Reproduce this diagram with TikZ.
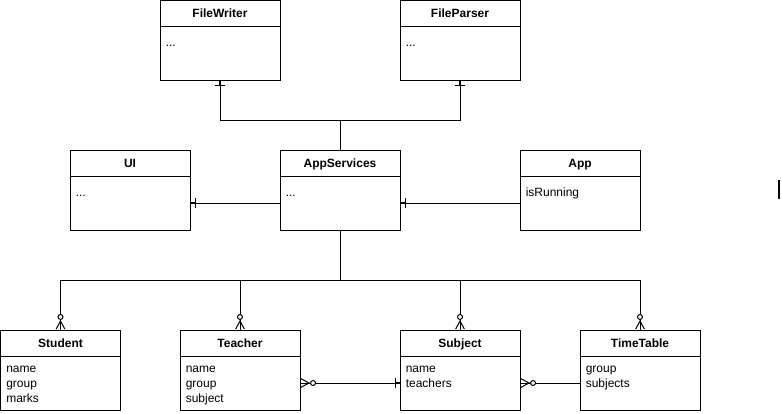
\documentclass[tikz,border=0pt]{standalone}
\usepackage{fontspec}
\setmainfont{Liberation Sans}
\usetikzlibrary{arrows.meta,positioning}
\tikzset{
  entitybox/.style={draw,line width=0.75pt,minimum width=90pt,
                    minimum height=60pt,inner sep=0pt},
  entitytitle/.style={draw,line width=0.75pt,minimum width=90pt,
                      minimum height=19.5pt,inner sep=0pt,anchor=north,
                      font=\bfseries\fontsize{9}{11}\selectfont,
                      text height=6.5pt,text depth=0pt},
  entityattr/.style={anchor=north west,align=left,inner xsep=4.5pt,
                     inner ysep=6.9pt,font=\fontsize{9}{11.1}\selectfont,
                     execute at begin node=\strut},
  rel/.style={line width=0.75pt,preaction={draw,-}},
  toone/.style={rel,arrows={-Bar[width=7.5pt] Rectangle[length=3pt,width=0pt]}},
  tomany/.style={rel,arrows={-Circle[fill=white,length=4.5pt]
                 Straight Barb[reversed,length=6pt,width=6.5pt]}},
  manytoone/.style={rel,arrows={{Straight Barb[reversed,length=6pt,width=6.5pt]
                    Circle[fill=white,length=4.5pt]}-{Bar[width=7.5pt]
                    Rectangle[length=3pt,width=0pt]}}},
  manytonone/.style={rel,arrows={{Straight Barb[reversed,length=6pt,width=6.5pt]
                     Circle[fill=white,length=4.5pt]}-}},
}

\begin{document}
\begin{tikzpicture}[x=0.75pt,y=-0.75pt]
  \useasboundingbox (0,0) rectangle (782,414);
  % file layer
  \node[entitybox] (fw) at (220,40.5) {};
  \node[entitytitle] (fwt) at (fw.north) {FileWriter};
  \node[entityattr] at (fwt.south west) {...};
  \node[entitybox] (fp) at (460,40.5) {};
  \node[entitytitle] (fpt) at (fp.north) {FileParser};
  \node[entityattr] at (fpt.south west) {...};
  % service layer
  \node[entitybox] (ui) at (130,190) {};
  \node[entitytitle] (uit) at (ui.north) {UI};
  \node[entityattr] at (uit.south west) {...};
  \node[entitybox] (as) at (340,190) {};
  \node[entitytitle] (ast) at (as.north) {AppServices};
  \node[entityattr] at (ast.south west) {...};
  \node[entitybox] (app) at (580,190) {};
  \node[entitytitle] (appt) at (app.north) {App};
  \node[entityattr] at (appt.south west) {isRunning};
  % data layer
  \node[entitybox] (st) at (60.5,370) {};
  \node[entitytitle] (stt) at (st.north) {Student};
  \node[entityattr] at (stt.south west) {name\\group\\marks};
  \node[entitybox] (te) at (240,370) {};
  \node[entitytitle] (tet) at (te.north) {Teacher};
  \node[entityattr] at (tet.south west) {name\\group\\subject};
  \node[entitybox] (sb) at (460,370) {};
  \node[entitytitle] (sbt) at (sb.north) {Subject};
  \node[entityattr] at (sbt.south west) {name\\teachers};
  \node[entitybox] (tt) at (640,370) {};
  \node[entitytitle] (ttt) at (tt.north) {TimeTable};
  \node[entityattr] at (ttt.south west) {group\\subjects};
  % relations
  \coordinate (up) at (340,120);
  \coordinate (down) at (340,280);
  \draw[toone] (as.north) -- (up) -| (fw.south);
  \draw[toone] (as.north) -- (up) -| (fp.south);
  \draw[toone] ([yshift=-9.75pt]as.west) -- ([yshift=-9.75pt]ui.east);
  \draw[toone] ([yshift=-9.75pt]app.west) -- ([yshift=-9.75pt]as.east);
  \draw[tomany] (as.south) -- (down) -| (st.north);
  \draw[tomany] (as.south) -- (down) -| (te.north);
  \draw[tomany] (as.south) -- (down) -| (sb.north);
  \draw[tomany] (as.south) -- (down) -| (tt.north);
  \draw[manytoone] ([yshift=-9.75pt]te.east) -- ([yshift=-9.75pt]sb.west);
  \draw[manytonone] ([yshift=-9.75pt]sb.east) -- ([yshift=-9.75pt]tt.west);
  % cursor mark at the right edge
  \draw[line width=1.5pt] (779,180) -- (779,199);
\end{tikzpicture}
\end{document}
